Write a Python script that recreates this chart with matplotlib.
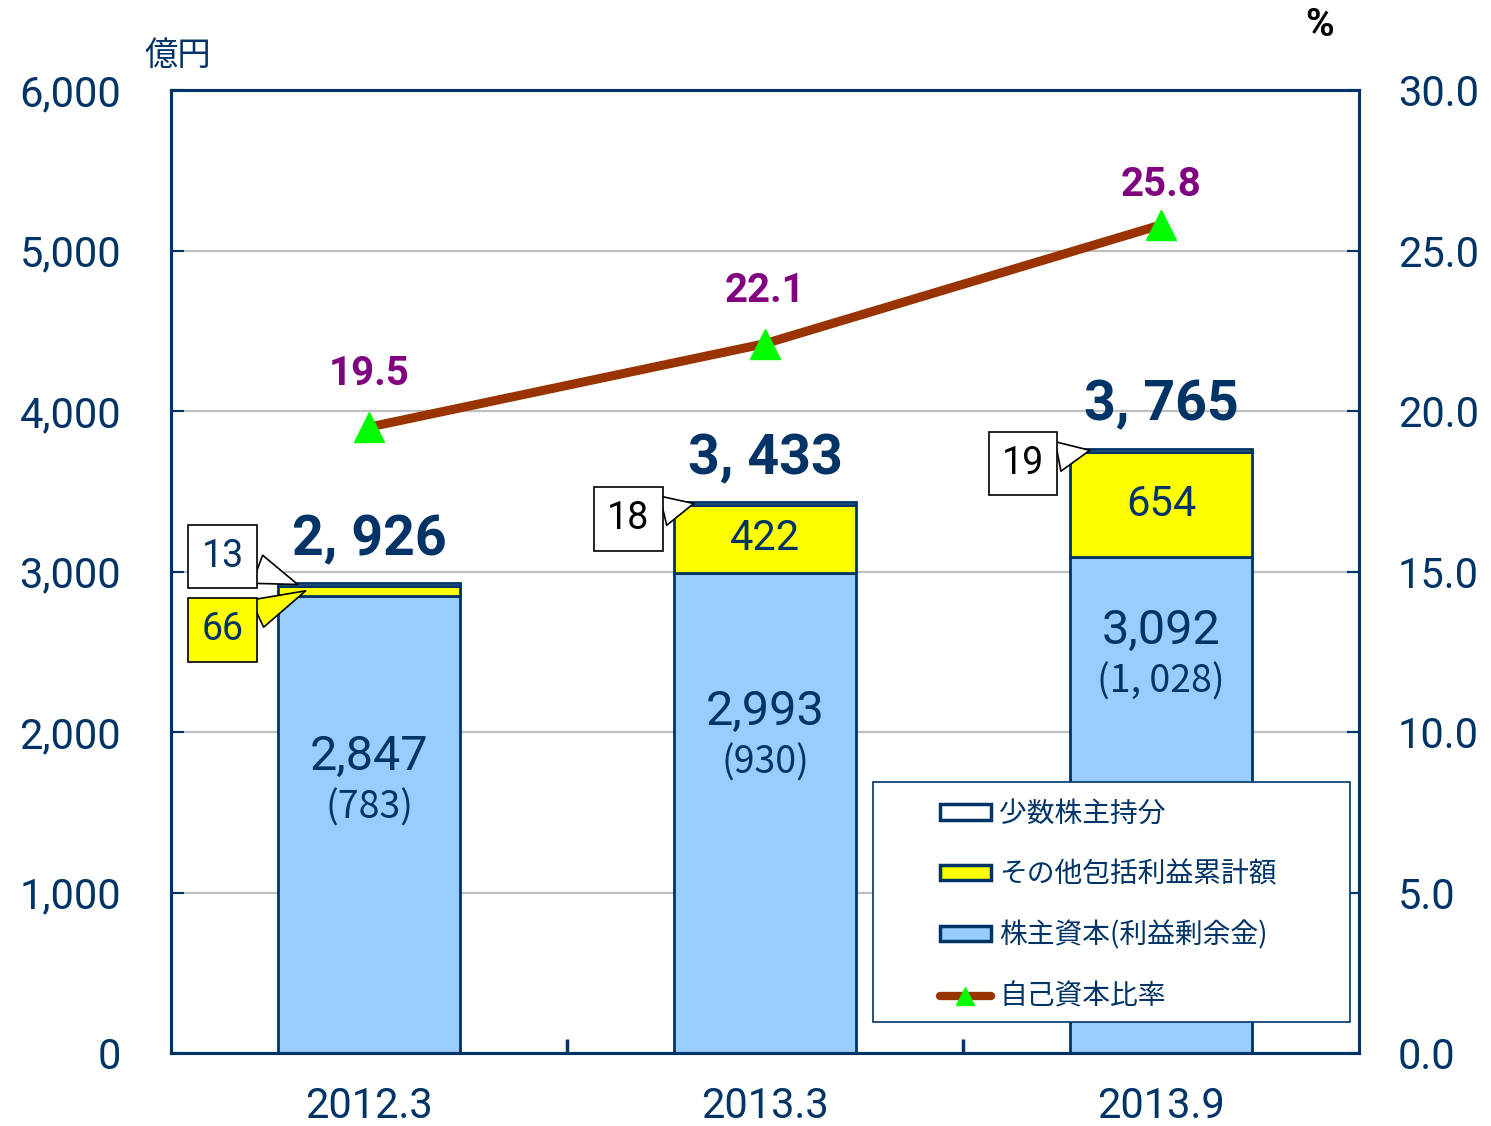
import numpy as np
import matplotlib
matplotlib.use('Agg')
import matplotlib.pyplot as plt
from matplotlib.patches import Patch, Rectangle
from matplotlib.lines import Line2D

plt.rcParams['font.family'] = ['Roboto', 'Noto Sans CJK JP', 'DejaVu Sans']

categories = ['2012.3', '2013.3', '2013.9']
shareholders_equity = [2847, 2993, 3092]
retained_earnings = [783, 930, 1028]
other_comprehensive = [66, 422, 654]
minority_interests = [13, 18, 19]
equity_ratio = [19.5, 22.1, 25.8]
legend_labels = ['少数株主持分', 'その他包括利益累計額', '株主資本(利益剰余金)', '自己資本比率']

# where the text inside the blue bars sits (data units)
inner_label_y = [1844, 2125, 2629]
# offset of the ratio labels above the markers (points)
ratio_label_offset = [38, 38, 29]

navy = '#003366'
blue = '#99CCFF'
yellow = '#FFFF00'
brown = '#993300'
green = '#00FF00'
purple = '#800080'
grid_gray = '#BFBFBF'
jp = ['Noto Sans CJK JP', 'DejaVu Sans']

def fmt(v):
    return '{:,}'.format(v).replace(',', ', ')

def main():
    x = np.arange(len(categories))
    se = np.array(shareholders_equity)
    oc = np.array(other_comprehensive)
    mi = np.array(minority_interests)
    totals = se + oc + mi
    w = 0.46

    fig = plt.figure(figsize = (14.91, 11.26), dpi = 100)
    ax = fig.add_axes([0.1147, 0.0648, 0.7968, 0.8552])

    ax.bar(x, se, w, color = blue, edgecolor = navy, lw = 2, zorder = 2)
    ax.bar(x, oc, w, bottom = se, color = yellow, edgecolor = navy, lw = 2, zorder = 2)
    ax.bar(x, mi, w, bottom = se + oc, color = 'white', edgecolor = navy, lw = 2, zorder = 2)

    ax.set_xlim(-0.5, 2.5)
    ax.set_ylim(0, 6000)
    ax.set_yticks(range(0, 6001, 1000))
    ax.set_yticklabels(['{:,}'.format(v) for v in range(0, 6001, 1000)])
    ax.set_xticks(x)
    ax.set_xticklabels(categories)
    ax.set_xticks([0.5, 1.5], minor = True)

    ax.yaxis.grid(True, color = grid_gray, lw = 1.6)
    ax.set_axisbelow(True)
    for s in ax.spines.values():
        s.set_color(navy)
        s.set_linewidth(2.2)

    ax.tick_params(axis = 'y', direction = 'in', length = 9, width = 1.5, color = navy,
                   labelcolor = navy, labelsize = 30, pad = 36)
    ax.tick_params(axis = 'x', which = 'major', length = 0, labelcolor = navy, labelsize = 30, pad = 24)
    ax.tick_params(axis = 'x', which = 'minor', direction = 'in', length = 10, width = 2.5, color = navy)

    # totals
    for i, t in enumerate(totals):
        ax.annotate(fmt(int(t)), (i, t), xytext = (0, 31), textcoords = 'offset points',
                    ha = 'center', va = 'center', fontsize = 40, fontweight = 'bold', color = navy)

    # inside blue bars
    for i in range(len(x)):
        ax.text(i, inner_label_y[i], '{:,}'.format(shareholders_equity[i]), ha = 'center', va = 'center',
                fontsize = 35, color = navy, zorder = 4)
        ax.annotate('(' + fmt(retained_earnings[i]) + ')', (i, inner_label_y[i]), xytext = (0, -37),
                    textcoords = 'offset points', ha = 'center', va = 'center',
                    fontsize = 27, color = navy, family = jp, zorder = 4)

    # inside yellow segments (only where wide enough)
    for i in range(1, len(x)):
        ax.text(i, se[i] + oc[i] / 2, str(oc[i]), ha = 'center', va = 'center',
                fontsize = 30, color = navy, zorder = 4)

    # callouts
    wedge = 'wedge,tail_width=0.8,shrink_factor=0.5'
    mi_pos = [(-0.37, totals[0] + 170), (0.655, totals[1] - 105), (1.652, totals[2] - 90)]
    mi_col = [navy, 'black', 'black']
    for i in range(len(x)):
        ax.annotate(str(mi[i]), xy = (i - w / 2 + 0.05, totals[i] - mi[i] / 2), xytext = mi_pos[i],
                    ha = 'center', va = 'center', fontsize = 27, color = mi_col[i], zorder = 5,
                    bbox = dict(boxstyle = 'square,pad=0.35', fc = 'white', ec = 'black', lw = 1.2),
                    arrowprops = dict(arrowstyle = wedge, fc = 'white', ec = 'black', lw = 1.2,
                                      shrinkA = 0, shrinkB = 0))
    ax.annotate(str(oc[0]), xy = (-w / 2 + 0.07, se[0] + oc[0] / 2), xytext = (-0.37, totals[0] - 290),
                ha = 'center', va = 'center', fontsize = 27, color = navy, zorder = 5,
                bbox = dict(boxstyle = 'square,pad=0.35', fc = yellow, ec = 'black', lw = 1.2),
                arrowprops = dict(arrowstyle = wedge, fc = yellow, ec = 'black', lw = 1.2,
                                  shrinkA = 0, shrinkB = 0))

    # ratio on right axis
    ax2 = ax.twinx()
    ax2.set_ylim(0, 30)
    ax2.set_yticks(np.arange(0, 30.1, 5))
    ax2.set_yticklabels(['{:.1f}'.format(v) for v in np.arange(0, 30.1, 5)])
    ax2.tick_params(axis = 'y', direction = 'in', length = 9, width = 1.5, color = navy,
                    labelcolor = navy, labelsize = 30, pad = 28)
    for s in ax2.spines.values():
        s.set_color(navy)
        s.set_linewidth(2.2)

    ax2.plot(x, equity_ratio, color = brown, lw = 6.5, marker = '^', ms = 22,
             mfc = green, mec = green, zorder = 3)
    for i, v in enumerate(equity_ratio):
        ax2.annotate('{:.1f}'.format(v), (i, v), xytext = (0, ratio_label_offset[i]), textcoords = 'offset points',
                     ha = 'center', va = 'center', fontsize = 29, fontweight = 'bold', color = purple)

    # legend
    ax2.add_patch(Rectangle((0.591, 0.032), 0.4015, 0.249, transform = ax2.transAxes,
                            fc = 'white', ec = navy, lw = 1.2, zorder = 5, clip_on = False))
    handles = [
        Patch(fc = 'white', ec = navy, lw = 2.5),
        Patch(fc = yellow, ec = navy, lw = 2.5),
        Patch(fc = blue, ec = navy, lw = 2.5),
        Line2D([], [], color = brown, lw = 6, solid_capstyle = 'round', marker = '^', ms = 13,
               mfc = green, mec = green),
    ]
    leg = ax2.legend(handles, legend_labels, loc = 'upper left', bbox_to_anchor = (0.647, 0.264),
                     frameon = False, borderpad = 0, borderaxespad = 0, handlelength = 1.85,
                     handleheight = 0.47, handletextpad = 0.3, labelspacing = 1.11,
                     prop = {'family': jp, 'size': 20})
    leg.set_zorder(6)
    for t in leg.get_texts():
        t.set_color(navy)

    fig.text(178 / 1491, 1 - 55 / 1126, '億円', ha = 'center', va = 'center', fontsize = 24,
             color = navy, family = jp)
    fig.text(1320 / 1491, 1 - 25 / 1126, '%', ha = 'center', va = 'center', fontsize = 28,
             fontweight = 'bold', color = 'black')

    plt.savefig('out.png', dpi = 100)
    plt.close()

if __name__ == '__main__':
    main()
